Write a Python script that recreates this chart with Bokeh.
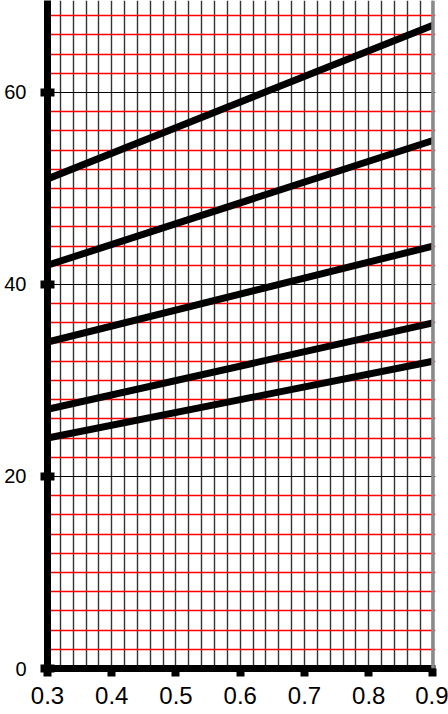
from bokeh.plotting import figure
from bokeh.models import FixedTicker, Range1d, Span
from bokeh.embed import file_html
from bokeh.resources import INLINE

# data
x_vals = [0.3, 0.9]
series_1 = [51, 67]
series_2 = [42, 55]
series_3 = [34, 44]
series_4 = [27, 36]
series_5 = [24, 32]
x_ticks = [0.3, 0.4, 0.5, 0.6, 0.7, 0.8, 0.9]
y_ticks = [0, 20, 40, 60]
x_minor = [round(0.3 + 0.02 * i, 2) for i in range(1, 31) if (i % 5) != 0]
y_minor = [v for v in range(2, 70, 2) if v % 20 != 0]

X_START, X_END = 0.3, 0.9039
Y_START, Y_END = 0, 69.58

p = figure(width=448, height=714, output_backend="svg", toolbar_location=None,
           title=None,
           x_range=Range1d(X_START, X_END), y_range=Range1d(Y_START, Y_END),
           min_border_left=47, min_border_right=13, min_border_top=0,
           min_border_bottom=46)
p.outline_line_color = None
p.background_fill_color = "white"
p.border_fill_color = "white"

# grids
p.xgrid.ticker = FixedTicker(ticks=x_ticks, minor_ticks=x_minor)
p.xgrid.grid_line_color = "#111111"
p.xgrid.grid_line_width = 1.4
p.xgrid.grid_line_alpha = 0.85
p.xgrid.minor_grid_line_color = "#111111"
p.xgrid.minor_grid_line_width = 1.4
p.xgrid.minor_grid_line_alpha = 0.85

p.ygrid.ticker = FixedTicker(ticks=y_ticks, minor_ticks=y_minor)
p.ygrid.grid_line_color = "black"
p.ygrid.grid_line_width = 1.2
p.ygrid.minor_grid_line_color = "#ff0000"
p.ygrid.minor_grid_line_width = 1.4

p.add_layout(Span(location=x_ticks[-1], dimension="height", line_color="#8a8a8a", line_width=3.5))

# series
for s in [series_1, series_2, series_3, series_4, series_5]:
    p.line(x_vals, s, line_color="black", line_width=7)

# axes
p.xaxis.ticker = FixedTicker(ticks=x_ticks)
p.yaxis.ticker = FixedTicker(ticks=y_ticks)
for ax in (p.xaxis[0], p.yaxis[0]):
    ax.axis_line_color = "black"
    ax.axis_line_width = 7
    ax.major_tick_line_color = "black"
    ax.minor_tick_line_color = None
    ax.major_label_text_font = "Liberation Sans"
    ax.major_label_text_color = "black"

p.xaxis.major_tick_line_width = 8
p.xaxis.major_tick_in = 0
p.xaxis.major_tick_out = 8
p.xaxis.major_label_text_font_size = "24px"
p.xaxis.major_label_standoff = 10
p.xaxis.major_label_overrides = {t: f"{t:.1f}" for t in x_ticks}

p.yaxis.major_tick_line_width = 8
p.yaxis.major_tick_in = 7
p.yaxis.major_tick_out = 7
p.yaxis.major_label_text_font_size = "20px"
p.yaxis.major_label_standoff = 14

open("out.html", "w").write(file_html(p, INLINE))
